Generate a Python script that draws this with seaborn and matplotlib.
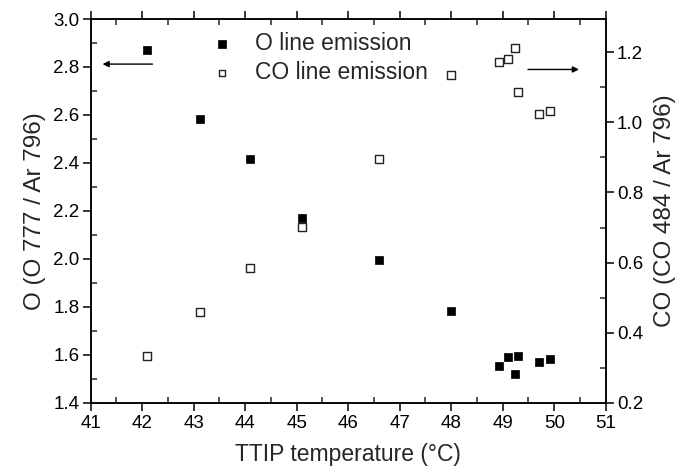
import matplotlib
matplotlib.use("Agg")
import matplotlib.pyplot as plt
from matplotlib.ticker import MultipleLocator, FormatStrFormatter
import seaborn as sns
import pandas as pd

# TTIP bubbler temperature (°C) for each run
temperature = [42.10, 43.13, 44.10, 45.10, 46.60, 48.00,
               48.93, 49.10, 49.23, 49.29, 49.70, 49.92]
# O 777 nm line intensity normalised to Ar 796 nm
o_ratio = [2.871, 2.584, 2.415, 2.169, 1.994, 1.782,
           1.552, 1.592, 1.521, 1.593, 1.570, 1.583]
# CO 484 nm line intensity normalised to Ar 796 nm
co_ratio = [0.332, 0.460, 0.584, 0.701, 0.896, 1.136,
            1.172, 1.182, 1.211, 1.086, 1.023, 1.032]

df = pd.DataFrame({"T": temperature, "O": o_ratio, "CO": co_ratio})

sns.set_style("ticks")
plt.rcParams["font.family"] = ["Liberation Sans", "DejaVu Sans"]

fig = plt.figure(figsize=(6.79, 4.74), dpi=100)
ax = fig.add_axes([0.1336, 0.1504, 0.7585, 0.8095])
ax2 = ax.twinx()

sns.scatterplot(data=df, x="T", y="O", ax=ax, marker="s", s=40,
                color="black", edgecolor="black", linewidth=0.5,
                label="O line emission", legend=False)
sns.scatterplot(data=df, x="T", y="CO", ax=ax2, marker="s", s=30,
                facecolor="white", edgecolor="#222222", linewidth=1.0,
                label="CO line emission", legend=False)

ax.set_xlim(41, 51)
ax.set_ylim(1.4, 3.0)
ax2.set_ylim(0.2, 1.295)

ax.xaxis.set_major_locator(MultipleLocator(1))
ax.xaxis.set_minor_locator(MultipleLocator(0.5))
ax.yaxis.set_major_locator(MultipleLocator(0.2))
ax.yaxis.set_minor_locator(MultipleLocator(0.1))
ax2.yaxis.set_major_locator(MultipleLocator(0.2))
ax2.yaxis.set_minor_locator(MultipleLocator(0.1))
ax.yaxis.set_major_formatter(FormatStrFormatter("%.1f"))
ax2.yaxis.set_major_formatter(FormatStrFormatter("%.1f"))

for a in (ax, ax2):
    for sp in a.spines.values():
        sp.set_visible(True)
        sp.set_linewidth(1.1)
        sp.set_color("black")

ax.tick_params(axis="x", which="major", direction="out", length=6, width=1.1,
               labelsize=13.5, pad=3, top=True, colors="black")
ax.tick_params(axis="x", which="minor", direction="in", length=4, width=1.1,
               top=True)
ax.tick_params(axis="y", which="major", direction="out", length=6, width=1.1,
               labelsize=13.5, pad=2, colors="black")
ax.tick_params(axis="y", which="minor", direction="in", length=4, width=1.1)
ax2.tick_params(axis="y", which="major", direction="out", length=6, width=1.1,
                labelsize=13.5, pad=2, colors="black")
ax2.tick_params(axis="y", which="minor", direction="in", length=4, width=1.1)

ax.set_xlabel("TTIP temperature (°C)", fontsize=16.5, labelpad=8)
ax.set_ylabel("O (O 777 / Ar 796)", fontsize=17.5, labelpad=5)
ax2.set_ylabel("CO (CO 484 / Ar 796)", fontsize=17.5, labelpad=8)

# arrows pointing to the axis each series belongs to
ax.annotate("", xy=(41.23, 2.812), xytext=(42.20, 2.812),
            arrowprops=dict(arrowstyle="-|>", color="black", lw=1.0,
                            mutation_scale=9, shrinkA=0, shrinkB=0))
ax2.annotate("", xy=(50.48, 1.151), xytext=(49.49, 1.151),
             arrowprops=dict(arrowstyle="-|>", color="black", lw=1.0,
                             mutation_scale=9, shrinkA=0, shrinkB=0))

h1, l1 = ax.get_legend_handles_labels()
h2, l2 = ax2.get_legend_handles_labels()
leg = ax2.legend(h1 + h2, l1 + l2, loc="upper left",
                 bbox_to_anchor=(0.2336, 0.966), frameon=False, fontsize=16.5,
                 handlelength=1.0, handletextpad=0.9, labelspacing=0.28,
                 borderpad=0, borderaxespad=0, markerscale=0.85)

fig.savefig("out.png", dpi=100)
